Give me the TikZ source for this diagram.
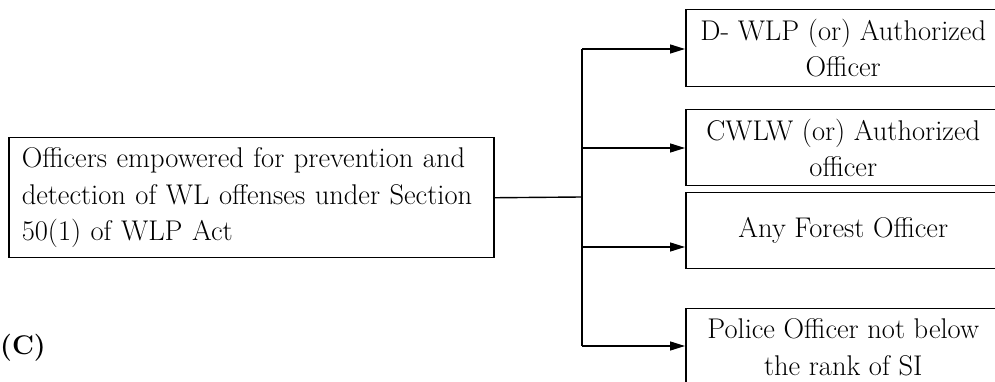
\documentclass[tikz,border=0pt]{standalone}
\usetikzlibrary{arrows.meta}
\begin{document}
\begin{tikzpicture}[x=1pt,y=1pt,
  box/.style={draw, line width=1.5pt, inner ysep=0pt, inner xsep=0pt, font=\fontsize{28.5}{36.5}\selectfont},
  conn/.style={line width=1.4pt},
  arr/.style={conn, -{Triangle[length=15pt,width=9pt]}}]
\useasboundingbox (0,0) rectangle (995,382);
\clip (0,0) rectangle (995,382);
\node[box, inner xsep=13pt, minimum width=485pt, minimum height=120pt, anchor=north west, align=left, text width=459pt] (main) at (8,245)
  {Officers empowered for prevention and\\ detection of WL offenses under Section\\ 50(1) of WLP Act};
\node[box, minimum width=315pt, minimum height=77pt, anchor=north west, align=center] (b1) at (685,373) {D- WLP (or) Authorized\\ Officer};
\node[box, minimum width=315pt, minimum height=76pt, anchor=north west, align=center] (b2) at (685,273) {CWLW (or) Authorized\\ officer};
\node[box, minimum width=315pt, minimum height=76pt, anchor=north west, align=center] (b3) at (685,190) {Any Forest Officer};
\node[box, minimum width=315pt, minimum height=77pt, anchor=north west, align=center] (b4) at (685,74) {Police Officer not below\\ the rank of SI};
\node[anchor=base west, inner sep=0pt, font=\bfseries\fontsize{27}{30}\selectfont] (lbl) at (0,27) {(C)};
\coordinate (j) at (582,185);
\coordinate (t1) at (582,333);
\coordinate (t2) at (582,234);
\coordinate (t3) at (582,135);
\coordinate (t4) at (582,36);
\draw[conn] (main.east) -- (j);
\draw[conn] (t1) -- (t4);
\draw[arr] (t1) -- (t1 -| b1.west);
\draw[arr] (t2) -- (t2 -| b2.west);
\draw[arr] (t3) -- (t3 -| b3.west);
\draw[arr] (t4) -- (t4 -| b4.west);
\end{tikzpicture}
\end{document}
